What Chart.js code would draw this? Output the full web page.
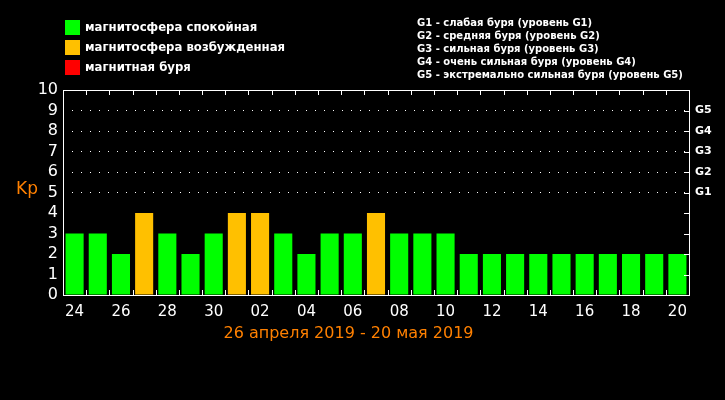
<!DOCTYPE html>
<html>
<head>
<meta charset="utf-8">
<script src="https://cdn.jsdelivr.net/npm/chart.js@4"></script>
<style>
  html, body { margin: 0; padding: 0; background: #000; }
  #wrap { position: relative; width: 725px; height: 400px; background: #000; overflow: hidden; }
  #chart { position: absolute; left: 0; top: 0; }
  .lg { position: absolute; left: 65px; height: 15px; font: bold 13px "DejaVu Sans Condensed", "DejaVu Sans", sans-serif; color: #fff; white-space: nowrap; }
  .lg i { position: absolute; left: 0; top: 0; width: 15px; height: 15px; }
  .lg span { position: absolute; left: 20px; top: -1px; line-height: 16px; }
  #glegend { position: absolute; left: 417px; top: 16px; font: bold 10px "DejaVu Sans", sans-serif; color: #fff; line-height: 13px; white-space: nowrap; }
  #kp { position: absolute; left: 16px; top: 178px; font: 17px "DejaVu Sans", sans-serif; color: #ff8000; }
  #xtitle { position: absolute; left: 0; width: 697px; top: 323px; text-align: center; font: 16px "DejaVu Sans", sans-serif; color: #ff8000; }
</style>
</head>
<body>
<div id="wrap">
  <canvas id="chart" width="725" height="400"></canvas>
  <div class="lg" style="top:20px"><i style="background:#00ff00"></i><span>магнитосфера спокойная</span></div>
  <div class="lg" style="top:40px"><i style="background:#ffc000"></i><span>магнитосфера возбужденная</span></div>
  <div class="lg" style="top:60px"><i style="background:#ff0000"></i><span>магнитная буря</span></div>
  <div id="glegend">
    G1 - слабая буря (уровень G1)<br>
    G2 - средняя буря (уровень G2)<br>
    G3 - сильная буря (уровень G3)<br>
    G4 - очень сильная буря (уровень G4)<br>
    G5 - экстремально сильная буря (уровень G5)
  </div>
  <div id="kp">Kp</div>
  <div id="xtitle">26 апреля 2019 - 20 мая 2019</div>
</div>
<script>
// days 24 Apr .. 20 May 2019
const days = ['24','25','26','27','28','29','30','01','02','03','04','05','06','07','08','09','10','11','12','13','14','15','16','17','18','19','20'];
const kpValues = [3,3,2,4,3,2,3,4,4,3,2,3,3,4,3,3,3,2,2,2,2,2,2,2,2,2,2];
const yTicks = [0,1,2,3,4,5,6,7,8,9,10];
const gLabels = {5:'G1', 6:'G2', 7:'G3', 8:'G4', 9:'G5'};

const GREEN = '#00ff00', ORANGE = '#ffc000', RED = '#ff0000';
function kpColor(v) {
  if (v >= 5) return RED;
  if (v >= 4) return ORANGE;
  return GREEN;
}

// frame + inward tick marks
const framePlugin = {
  id: 'frame',
  afterDraw(chart) {
    const { ctx, chartArea: a, scales } = chart;
    const x = scales.x, y = scales.y;
    ctx.save();
    ctx.strokeStyle = '#fff';
    ctx.lineWidth = 1;
    ctx.strokeRect(Math.round(a.left) + 0.5, Math.round(a.top) + 0.5,
                   Math.round(a.right - a.left), Math.round(a.bottom - a.top));
    const step = x.getPixelForValue(1) - x.getPixelForValue(0);
    ctx.beginPath();
    for (let i = 1; i < days.length; i++) {
      const px = Math.round(x.getPixelForValue(i) - step / 2) + 0.5;
      ctx.moveTo(px, a.bottom); ctx.lineTo(px, a.bottom - 5);
      ctx.moveTo(px, a.top); ctx.lineTo(px, a.top + 5);
    }
    yTicks.forEach(v => {
      if (v === 0 || v === 10) return;
      const py = Math.round(y.getPixelForValue(v)) + 0.5;
      ctx.moveTo(a.right, py); ctx.lineTo(a.right - 5, py);
    });
    ctx.stroke();
    ctx.restore();
  }
};

new Chart(document.getElementById('chart'), {
  type: 'bar',
  data: {
    labels: days,
    datasets: [{
      data: kpValues,
      backgroundColor: kpValues.map(kpColor),
      borderWidth: 0,
      barPercentage: 0.78,
      categoryPercentage: 1
    }]
  },
  options: {
    responsive: false,
    animation: false,
    layout: { padding: { left: 0, right: 0, top: 90, bottom: 0 } },
    plugins: { legend: { display: false }, tooltip: { enabled: false } },
    scales: {
      x: {
        offset: true,
        grid: { display: false, drawTicks: false },
        border: { display: false },
        ticks: {
          color: '#fff', font: { family: 'DejaVu Sans', size: 15 }, padding: 8,
          autoSkip: false, maxRotation: 0,
          callback: (v, i) => (i % 2 === 0 ? days[i] : '')
        },
        afterFit: s => { s.height = 105; }
      },
      y: {
        min: 0, max: 10,
        afterBuildTicks: s => { s.ticks = yTicks.map(v => ({ value: v })); },
        grid: {
          drawTicks: false,
          color: c => (c.tick && c.tick.value >= 5 && c.tick.value <= 9 ? '#fff' : 'rgba(0,0,0,0)'),
          lineWidth: 1
        },
        border: { display: false, dash: [1, 8] },
        ticks: { color: '#fff', font: { family: 'DejaVu Sans', size: 16 }, padding: 5, autoSkip: false },
        afterFit: s => { s.width = 63; }
      },
      y2: {
        position: 'right',
        min: 0, max: 10,
        afterBuildTicks: s => { s.ticks = yTicks.map(v => ({ value: v })); },
        grid: { display: false, drawTicks: false },
        border: { display: false },
        ticks: {
          color: '#fff', font: { family: 'DejaVu Sans', size: 11, weight: 'bold' }, padding: 6,
          autoSkip: false,
          callback: v => gLabels[v] || ''
        },
        afterFit: s => { s.width = 36; }
      }
    }
  },
  plugins: [framePlugin]
});
</script>
</body>
</html>
